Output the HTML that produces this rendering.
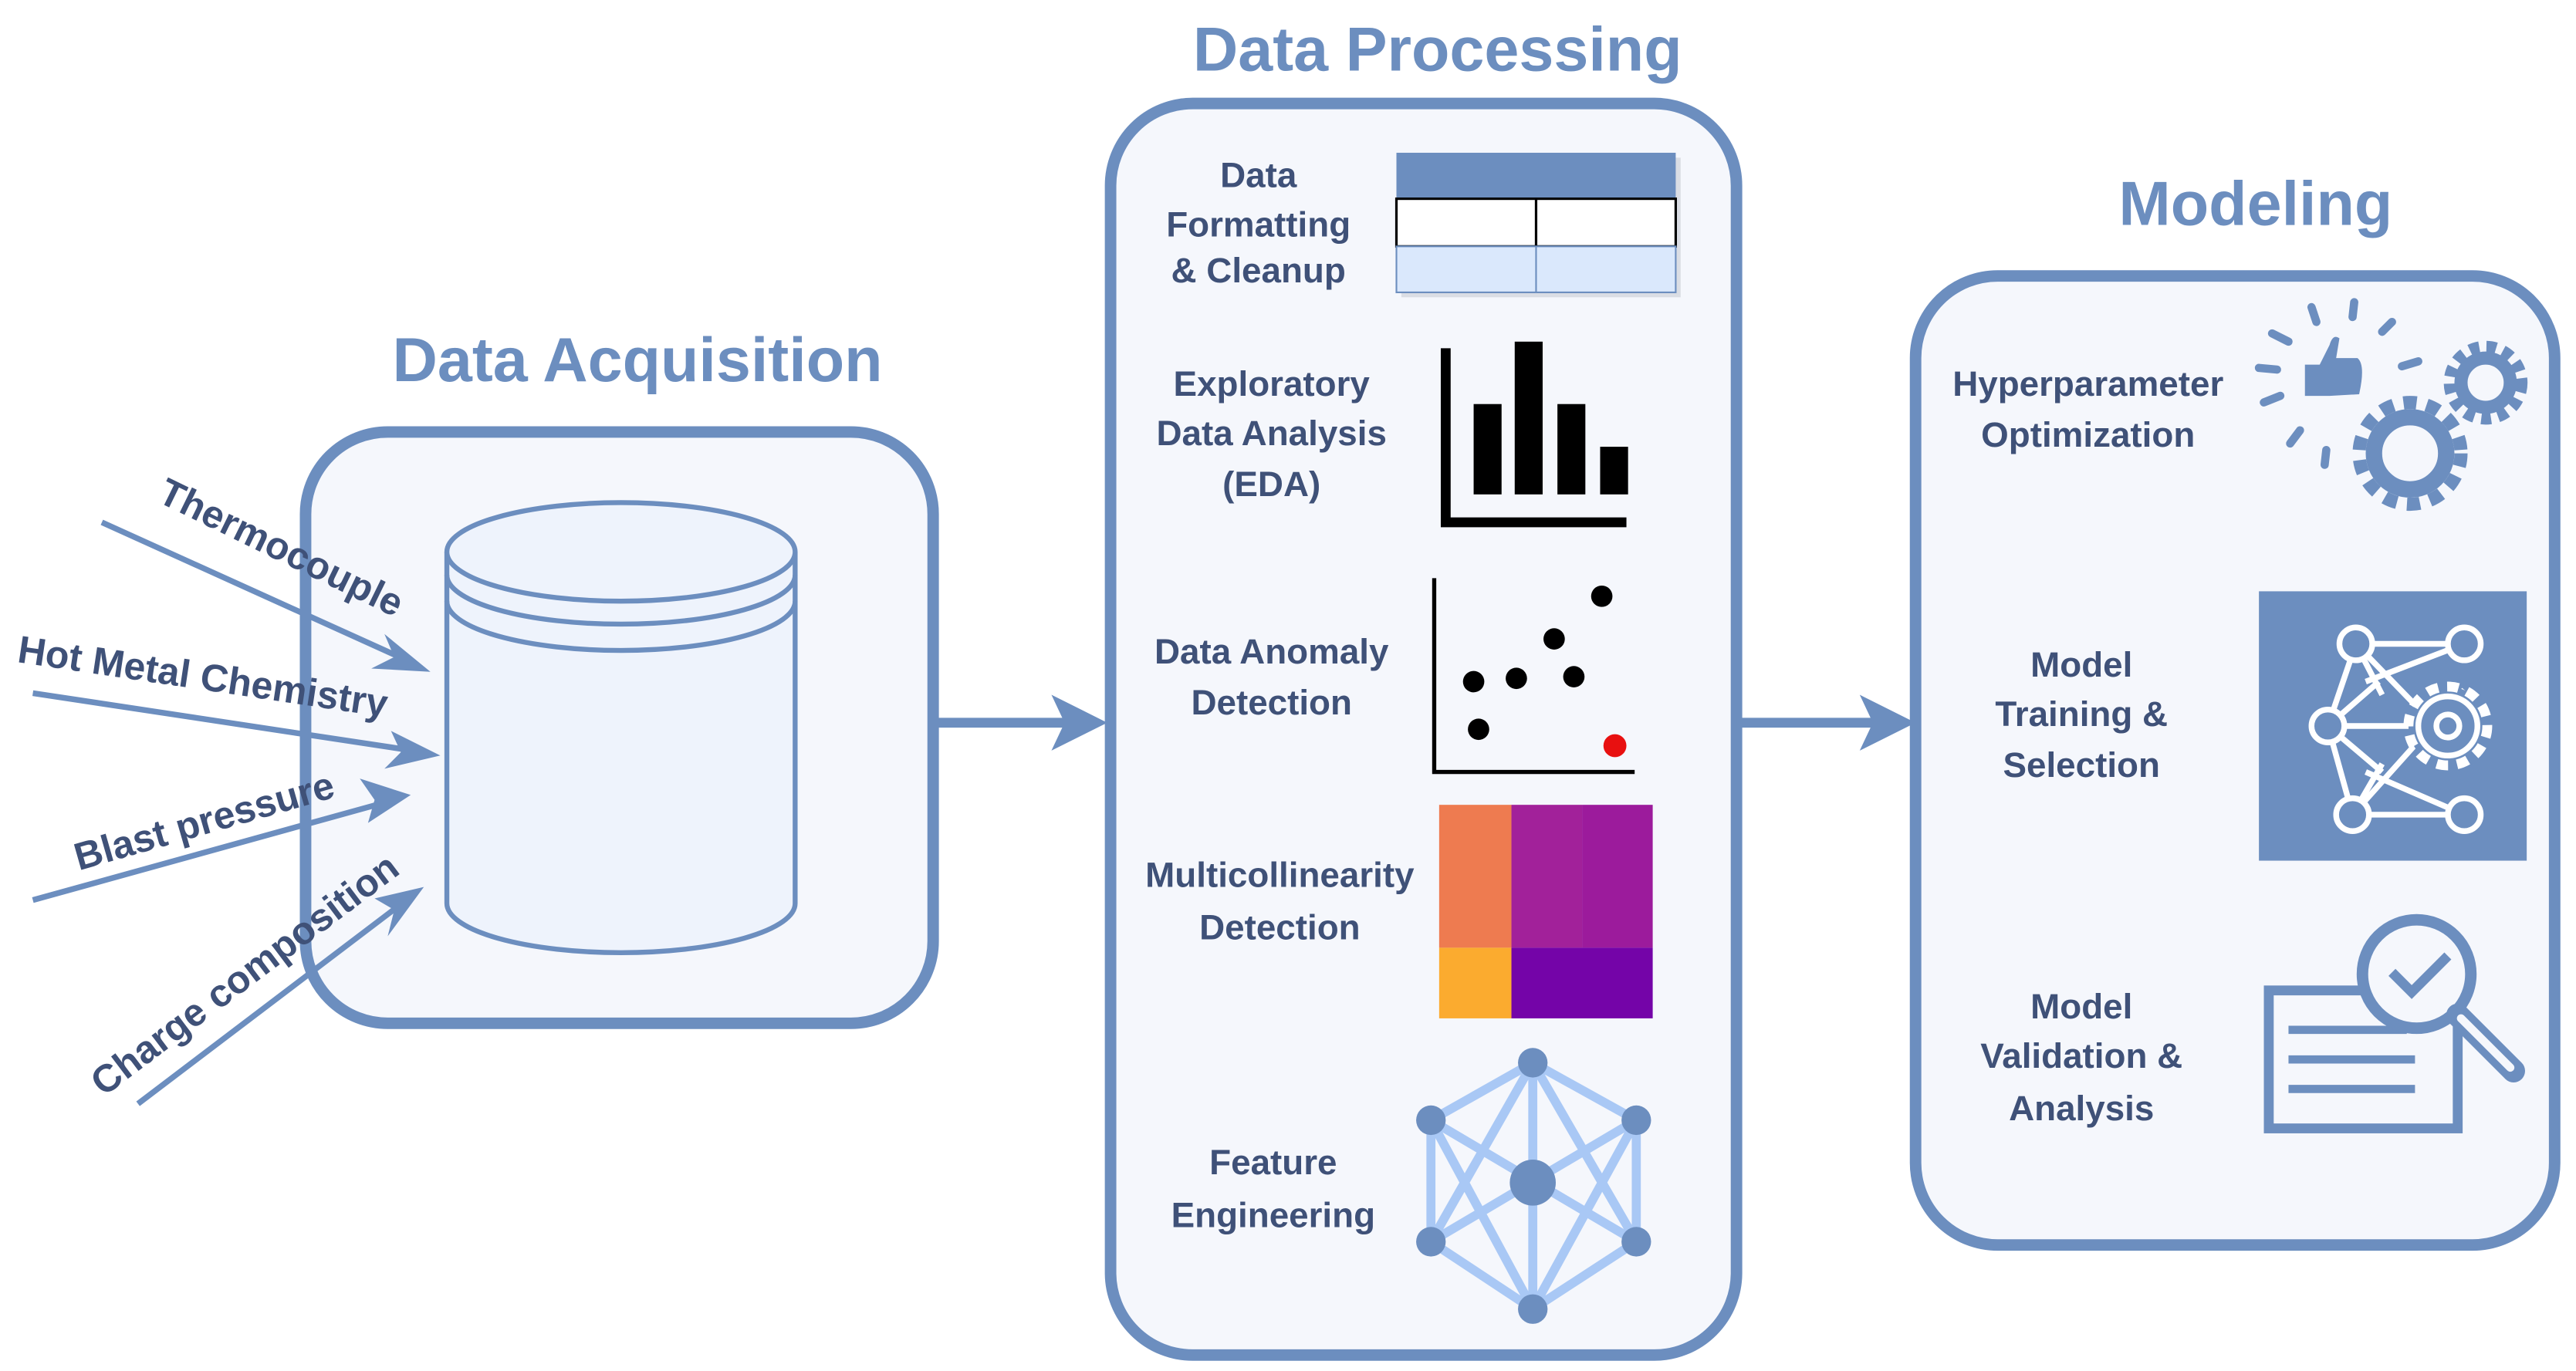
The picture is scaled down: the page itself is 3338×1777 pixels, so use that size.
<!DOCTYPE html>
<html><head><meta charset="utf-8"><style>
html,body{margin:0;padding:0;background:#fff;}
svg{display:block;}
text{font-family:"Liberation Sans",Arial,sans-serif;}
.t{fill:#6C8EBF;font-weight:bold;font-size:38px;text-anchor:middle;}
.l{fill:#3F5178;font-weight:bold;font-size:21.5px;text-anchor:middle;}
.in{fill:#3F5178;font-weight:bold;font-size:23.5px;}
</style></head><body>
<svg width="3338" height="1777" viewBox="0 0 1568 834.7" preserveAspectRatio="none" xmlns="http://www.w3.org/2000/svg">
<!-- titles -->
<text class="t" x="388" y="232">Data Acquisition</text>
<text class="t" x="875" y="43">Data Processing</text>
<text class="t" x="1373" y="137">Modeling</text>

<!-- boxes -->
<rect x="186" y="263" width="382" height="360" rx="50" fill="#F5F7FC" stroke="#6C8EBF" stroke-width="7"/>
<rect x="676" y="63" width="381" height="762" rx="50" fill="#F5F7FC" stroke="#6C8EBF" stroke-width="7"/>
<rect x="1166" y="168" width="389" height="590" rx="50" fill="#F5F7FC" stroke="#6C8EBF" stroke-width="7"/>

<!-- main arrows -->
<line x1="568" y1="440" x2="650" y2="440" stroke="#6C8EBF" stroke-width="6"/>
<polygon points="674,440 640,423 648,440 640,457" fill="#6C8EBF"/>
<line x1="1057" y1="440" x2="1142" y2="440" stroke="#6C8EBF" stroke-width="6"/>
<polygon points="1166,440 1132,423 1140,440 1132,457" fill="#6C8EBF"/>

<!-- cylinder -->
<g fill="#EEF3FC" stroke="#6C8EBF" stroke-width="3">
<path d="M272,336 L272,550 A106,30 0 0 0 484,550 L484,336"/>
<ellipse cx="378" cy="336" rx="106" ry="30"/>
<path d="M272,350 A106,30 0 0 0 484,350" fill="none"/>
<path d="M272,366 A106,30 0 0 0 484,366" fill="none"/>
</g>

<!-- input arrows -->
<g stroke="#6C8EBF" stroke-width="3.5" fill="none">
<line x1="62" y1="318" x2="252" y2="404"/>
<line x1="20" y1="422" x2="258" y2="458"/>
<line x1="20" y1="548" x2="240" y2="487"/>
<line x1="84" y1="672" x2="250" y2="546"/>
</g>
<g fill="#6C8EBF">
<polygon points="262,409 234,386 240,400 226,407"/>
<polygon points="268,460 238,445 244,458 234,468"/>
<polygon points="250,484 219,474 228,487 224,501"/>
<polygon points="258,540 228,547 240,554 236,570"/>
</g>
<text class="in" transform="translate(95,305) rotate(26)">Thermocouple</text>
<text class="in" transform="translate(10,403) rotate(8.5)">Hot Metal Chemistry</text>
<text class="in" transform="translate(48,530) rotate(-16)">Blast pressure</text>
<text class="in" transform="translate(63,668) rotate(-37)">Charge composition</text>

<!-- processing labels -->
<text class="l" x="766" y="114">Data</text>
<text class="l" x="766" y="144">Formatting</text>
<text class="l" x="766" y="172">&amp; Cleanup</text>
<text class="l" x="774" y="241">Exploratory</text>
<text class="l" x="774" y="271">Data Analysis</text>
<text class="l" x="774" y="302">(EDA)</text>
<text class="l" x="774" y="404">Data Anomaly</text>
<text class="l" x="774" y="435">Detection</text>
<text class="l" x="779" y="540">Multicollinearity</text>
<text class="l" x="779" y="572">Detection</text>
<text class="l" x="775" y="715">Feature</text>
<text class="l" x="775" y="747">Engineering</text>

<!-- table -->
<rect x="853" y="96" width="170" height="85" fill="#c8ccd4" opacity="0.6"/>
<rect x="850" y="93" width="170" height="28" fill="#6C8EBF"/>
<rect x="850" y="121" width="170" height="29" fill="#fff" stroke="#000" stroke-width="1.5"/>
<line x1="935" y1="121" x2="935" y2="150" stroke="#000" stroke-width="1.5"/>
<rect x="850" y="150" width="170" height="28" fill="#DAE8FC" stroke="#6C8EBF" stroke-width="1"/>
<line x1="935" y1="150" x2="935" y2="178" stroke="#6C8EBF" stroke-width="1"/>

<!-- bar chart -->
<path d="M880,212 L880,318 L990,318" fill="none" stroke="#000" stroke-width="6"/>
<rect x="897" y="246" width="17" height="55" fill="#000"/>
<rect x="922" y="208" width="17" height="93" fill="#000"/>
<rect x="948" y="246" width="17" height="55" fill="#000"/>
<rect x="974" y="272" width="17" height="29" fill="#000"/>

<!-- scatter -->
<path d="M873,352 L873,470 L995,470" fill="none" stroke="#000" stroke-width="2.5"/>
<g fill="#000">
<circle cx="975" cy="363" r="6.5"/><circle cx="946" cy="389" r="6.5"/>
<circle cx="897" cy="415" r="6.5"/><circle cx="923" cy="413" r="6.5"/>
<circle cx="958" cy="412" r="6.5"/><circle cx="900" cy="444" r="6.5"/>
</g>
<circle cx="983" cy="454" r="7" fill="#E81010"/>

<!-- heatmap -->
<rect x="876" y="490" width="44" height="87" fill="#EE7B50"/>
<rect x="876" y="577" width="44" height="43" fill="#FBAB2F"/>
<rect x="920" y="490" width="43" height="87" fill="#A2219A"/>
<rect x="963" y="490" width="43" height="87" fill="#9C1B9C"/>
<rect x="920" y="577" width="86" height="43" fill="#7404A8"/>

<!-- feature network -->
<g stroke="#A9C8F5" stroke-width="5.5">
<line x1="933" y1="647" x2="871" y2="682"/><line x1="933" y1="647" x2="996" y2="682"/>
<line x1="871" y1="682" x2="871" y2="756"/><line x1="996" y1="682" x2="996" y2="756"/>
<line x1="871" y1="756" x2="933" y2="797"/><line x1="996" y1="756" x2="933" y2="797"/>
<line x1="933" y1="647" x2="933" y2="797"/>
<line x1="871" y1="682" x2="996" y2="756"/><line x1="996" y1="682" x2="871" y2="756"/>
<line x1="871" y1="682" x2="933" y2="797"/><line x1="996" y1="682" x2="933" y2="797"/>
<line x1="871" y1="756" x2="933" y2="647"/><line x1="996" y1="756" x2="933" y2="647"/>
</g>
<g fill="#6C8EBF">
<circle cx="933" cy="647" r="9"/><circle cx="933" cy="797" r="9"/>
<circle cx="871" cy="682" r="9"/><circle cx="996" cy="682" r="9"/>
<circle cx="871" cy="756" r="9"/><circle cx="996" cy="756" r="9"/>
<circle cx="933" cy="720" r="14"/>
</g>

<!-- modeling labels -->
<text class="l" x="1271" y="241">Hyperparameter</text>
<text class="l" x="1271" y="272">Optimization</text>
<text class="l" x="1267" y="412">Model</text>
<text class="l" x="1267" y="442">Training &amp;</text>
<text class="l" x="1267" y="473">Selection</text>
<text class="l" x="1267" y="620">Model</text>
<text class="l" x="1267" y="650">Validation &amp;</text>
<text class="l" x="1267" y="682">Analysis</text>

<!-- hyperparameter icon -->
<g stroke="#6C8EBF" stroke-width="5" stroke-linecap="round">
<line x1="1383" y1="203" x2="1393" y2="208"/>
<line x1="1407" y1="187" x2="1410" y2="196"/>
<line x1="1433" y1="184" x2="1432" y2="193"/>
<line x1="1456" y1="196" x2="1450" y2="202"/>
<line x1="1375" y1="224" x2="1386" y2="225"/>
<line x1="1378" y1="245" x2="1388" y2="241"/>
<line x1="1394" y1="270" x2="1400" y2="262"/>
<line x1="1415" y1="283" x2="1416" y2="274"/>
<line x1="1462" y1="223" x2="1472" y2="220"/>
</g>
<path d="M1403,222 L1412,222 L1418,210 Q1420,203 1424,206 L1422,218 L1435,218 Q1440,222 1436,240 L1418,241 L1403,241 Z" fill="#6C8EBF"/>
<g fill="none" stroke="#6C8EBF">
<circle cx="1467" cy="276" r="22" stroke-width="10"/>
<circle cx="1467" cy="276" r="31" stroke-width="8" stroke-dasharray="8 6.2"/>
<circle cx="1513" cy="233" r="15" stroke-width="8"/>
<circle cx="1513" cy="233" r="22" stroke-width="7" stroke-dasharray="6 4.4"/>
</g>

<!-- training icon -->
<rect x="1375" y="360" width="163" height="164" fill="#6C8EBF"/>
<g stroke="#fff" stroke-width="3.5" fill="none">
<line x1="1434" y1="392" x2="1500" y2="392"/>
<line x1="1434" y1="392" x2="1417" y2="442"/>
<line x1="1434" y1="392" x2="1450" y2="423"/>
<line x1="1434" y1="392" x2="1500" y2="460"/>
<line x1="1417" y1="442" x2="1470" y2="442"/>
<line x1="1417" y1="442" x2="1432" y2="496"/>
<line x1="1417" y1="442" x2="1448" y2="415"/>
<line x1="1417" y1="442" x2="1450" y2="470"/>
<line x1="1500" y1="392" x2="1440" y2="415"/>
<line x1="1432" y1="496" x2="1500" y2="496"/>
<line x1="1432" y1="496" x2="1500" y2="420"/>
<line x1="1432" y1="496" x2="1450" y2="465"/>
<line x1="1440" y1="470" x2="1500" y2="496"/>
</g>
<g fill="#6C8EBF" stroke="#fff" stroke-width="3.5">
<circle cx="1434" cy="392" r="10"/><circle cx="1500" cy="392" r="10"/>
<circle cx="1417" cy="442" r="10"/><circle cx="1432" cy="496" r="10"/>
<circle cx="1500" cy="496" r="10"/>
<circle cx="1490" cy="442" r="24" stroke-width="6" stroke-dasharray="7 5.5" />
<circle cx="1490" cy="442" r="18"/>
<circle cx="1490" cy="442" r="7"/>
</g>

<!-- validation icon -->
<rect x="1381" y="603" width="115" height="84" fill="none" stroke="#6C8EBF" stroke-width="6"/>
<g stroke="#6C8EBF" stroke-width="5">
<line x1="1393" y1="627" x2="1465" y2="627"/>
<line x1="1393" y1="645" x2="1470" y2="645"/>
<line x1="1393" y1="663" x2="1470" y2="663"/>
</g>
<circle cx="1471" cy="593" r="33" fill="#F5F7FC" stroke="#6C8EBF" stroke-width="7"/>
<path d="M1456,592 L1468,604 L1490,582" fill="none" stroke="#6C8EBF" stroke-width="6"/>
<line x1="1496" y1="618" x2="1530" y2="652" stroke="#6C8EBF" stroke-width="14" stroke-linecap="round"/>
<line x1="1498" y1="620" x2="1528" y2="650" stroke="#F5F7FC" stroke-width="5" stroke-linecap="round"/>
</svg>
</body></html>
